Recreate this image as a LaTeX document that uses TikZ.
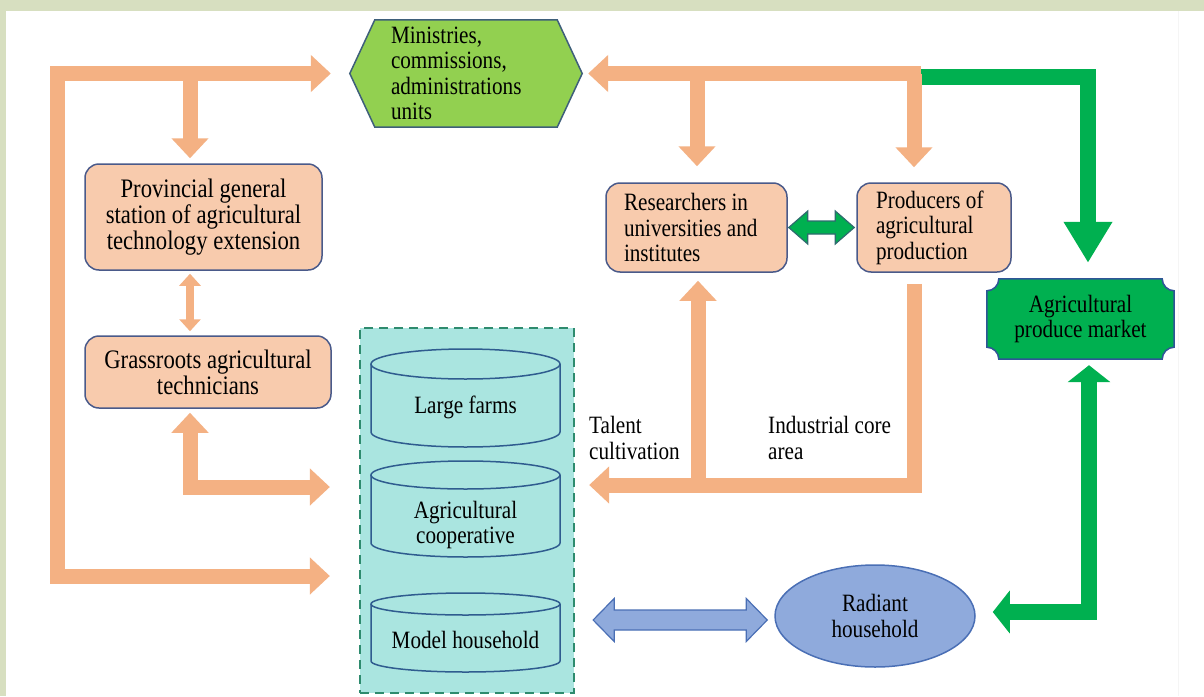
\documentclass[tikz,border=0pt]{standalone}
\usepackage{fontspec}
\setmainfont{Liberation Serif}[FakeStretch=0.85]
\usetikzlibrary{arrows.meta,calc,shapes.geometric}
\definecolor{band}{HTML}{D7DFC0}
\definecolor{orng}{HTML}{F4B183}
\definecolor{peach}{HTML}{F8CBAD}
\definecolor{boxline}{HTML}{4A5A8A}
\definecolor{lgreen}{HTML}{92D050}
\definecolor{hexline}{HTML}{3E5F7A}
\definecolor{dgreen}{HTML}{00B050}
\definecolor{mktline}{HTML}{2F5597}
\definecolor{tealfill}{HTML}{AAE5E0}
\definecolor{dashcol}{HTML}{2E8B6E}
\definecolor{cylline}{HTML}{2F5C8F}
\definecolor{lblue}{HTML}{8FAADC}
\definecolor{blueline}{HTML}{4A6FB5}
\definecolor{dblline}{HTML}{2E6B6E}
\newcommand\nodefont{\fontsize{24.9}{25.5}\selectfont}
\newcommand\bignodefont{\fontsize{26.7}{26}\selectfont}
\newcommand\tsp{\spaceskip=5.3pt plus 1pt minus 1pt\xspaceskip=5.6pt\relax}
\newcommand\bsp{\spaceskip=5.7pt plus 1pt minus 1pt\xspaceskip=6pt\relax}
\pgfdeclarelayer{bglayer}
\pgfdeclarelayer{shapelayer}
\pgfsetlayers{bglayer,shapelayer,main}
% cylinder drawn around a text node: name, top offset, bottom offset, ry
\newcommand\cylshape[4]{%
  \fill[tealfill] ($(#1.center)+(-94.5,#2+#4)$) rectangle ($(#1.center)+(94.5,#3-#4)$);
  \fill[tealfill] ($(#1.center)+(0,#3-#4)$) ellipse [x radius=94.5pt, y radius=#4pt];
  \draw[cylline,line width=1.5pt] ($(#1.center)+(0,#2+#4)$) ellipse [x radius=94.5pt, y radius=#4pt];
  \draw[cylline,line width=1.5pt] ($(#1.center)+(-94.5,#2+#4)$) -- ($(#1.center)+(-94.5,#3-#4)$)
     arc[start angle=180,end angle=360,x radius=94.5pt,y radius=#4pt] -- ($(#1.center)+(94.5,#2+#4)$);}
% horizontal double block arrow: left tip, right tip, shaft half, head half, head length, style
\newcommand\fatdouble[6]{%
  \filldraw[#6] let \p1=(#1), \p2=(#2) in
    (\x1,\y1) -- (\x1+#5,\y1+#4) -- (\x1+#5,\y1+#3) -- (\x2-#5,\y1+#3) -- (\x2-#5,\y1+#4)
    -- (\x2,\y1) -- (\x2-#5,\y1-#4) -- (\x2-#5,\y1-#3) -- (\x1+#5,\y1-#3) -- (\x1+#5,\y1-#4) -- cycle;}
\begin{document}
\begin{tikzpicture}[x=1pt,y=-1pt,
  every node/.style={font=\nodefont, inner sep=0pt},
  bigtext/.style={font=\bignodefont},
  rbox/.style={draw=boxline, line width=1.5pt, fill=peach, rounded corners=14pt},
  oarrow/.style={draw=orng, line width=15pt, line join=miter, >={Triangle[width=36pt,length=20pt]}},
  osmall/.style={draw=orng, line width=8pt, >={Triangle[width=21pt,length=12pt]}},
  garrow/.style={draw=dgreen, line width=16pt, line join=miter}]
\useasboundingbox (0,0) rectangle (1204,696);
\begin{pgfonlayer}{bglayer}
  \fill[white] (0,0) rectangle (1204,696);
  \fill[band] (0,0) rectangle (1204,11);
  \fill[band] (0,0) rectangle (6,696);
  \draw[black!4] (1178,11) -- (1178,696);
  \node[draw=dashcol, line width=2.3pt, dash pattern=on 9pt off 6pt, fill=tealfill,
        minimum width=214pt, minimum height=365pt] (cont) at (467,510.5) {};
\end{pgfonlayer}

% nodes
\node[minimum width=232pt, minimum height=107pt, text width=150pt, align=left] (min) at (466,73.5)
  {\tsp Ministries,\\commissions,\\administrations\\units};
\node[rbox, bigtext, minimum width=237pt, minimum height=106pt, align=center] (prov) at (203.5,217)
  {\bsp Provincial general\\station of agricultural\\technology extension};
\node[rbox, bigtext, minimum width=246pt, minimum height=72pt, align=center] (gr) at (208,372)
  {\bsp Grassroots agricultural\\technicians};
\node[rbox, minimum width=181pt, minimum height=89pt, text width=145pt, align=left] (res) at (696.5,227.5)
  {\tsp Researchers in\\universities and\\institutes};
\node[rbox, minimum width=154pt, minimum height=89pt, text width=116pt, align=left] (prod) at (934,227.5)
  {\tsp Producers of\\agricultural\\production};
\node[minimum width=187pt, minimum height=80pt, align=center] (mkt) at (1080.5,319)
  {\tsp Agricultural\\produce market};
\node[ellipse, draw=blueline, fill=lblue, line width=1.5pt, minimum width=200pt, minimum height=102pt, align=center]
  (rad) at (875,616) {Radiant\\household};
\node (c1) at (465.5,407) {\tsp Large farms};
\node[align=center] (c2) at (465.5,525) {Agricultural\\cooperative};
\node (c3) at (465.5,640) {\tsp Model household};
\node[anchor=west, align=left] (tal) at (589,438) {Talent\\cultivation};
\node[anchor=west, align=left] (ind) at (768,438) {\tsp Industrial core\\area};

\begin{pgfonlayer}{shapelayer}
  \filldraw[fill=lgreen, draw=hexline, line width=1.5pt]
    (min.west) -- ([xshift=25pt]min.north west) -- ([xshift=-25pt]min.north east) -- (min.east)
    -- ([xshift=-25pt]min.south east) -- ([xshift=25pt]min.south west) -- cycle;
  \filldraw[fill=dgreen, draw=mktline, line width=1.5pt]
    ([xshift=12pt]mkt.north west) -- ([xshift=-12pt]mkt.north east)
    .. controls ([xshift=-12pt,yshift=-6.6pt]mkt.north east) and ([xshift=-6.6pt,yshift=-12pt]mkt.north east) .. ([yshift=-12pt]mkt.north east)
    -- ([yshift=12pt]mkt.south east)
    .. controls ([xshift=-6.6pt,yshift=12pt]mkt.south east) and ([xshift=-12pt,yshift=6.6pt]mkt.south east) .. ([xshift=-12pt]mkt.south east)
    -- ([xshift=12pt]mkt.south west)
    .. controls ([xshift=12pt,yshift=6.6pt]mkt.south west) and ([xshift=6.6pt,yshift=12pt]mkt.south west) .. ([yshift=12pt]mkt.south west)
    -- ([yshift=-12pt]mkt.north west)
    .. controls ([xshift=6.6pt,yshift=-12pt]mkt.north west) and ([xshift=12pt,yshift=-6.6pt]mkt.north west) .. cycle;
  \cylshape{c1}{-58}{40}{15}
  \cylshape{c2}{-64}{32}{14}
  \cylshape{c3}{-47}{32}{11}
\end{pgfonlayer}

% coordinates for connector bends
\coordinate (tl) at (57,73.5);
\coordinate (bl) at (57,576);
\coordinate (tb) at (190,73.5);
\coordinate (c487) at (190,487);
\coordinate (tr) at (921,73.5);
\coordinate (bj1) at (697,73.5);
\coordinate (bj2) at (914,73.5);
\coordinate (c485r) at (914,485);
\coordinate (c485l) at (698,485);
\coordinate (gst) at (921,77);
\coordinate (gc) at (1089,612);
\coordinate (bly) at (0,620);

% green connectors
\draw[garrow, >={Triangle[width=46pt,length=41pt]}, ->, shorten >=16pt] (gst) -| ([xshift=7.5pt]mkt.north);
\draw[garrow, >={Triangle[width=42pt,length=17pt]}, <->, shorten <=17pt, shorten >=6pt]
  (rad.east |- gc) -- (gc) -- (gc |- mkt.south);

% orange connectors
\draw[oarrow, <->, shorten <=19pt, shorten >=29pt] (min.west) -- (tl) -- (bl) -- (bl -| cont.west);
\draw[oarrow, ->, shorten >=5pt] (tb) -- (tb |- prov.north);
\draw[osmall, <->, shorten <=3pt, shorten >=4pt] (prov.south -| tb) -- (gr.north -| tb);
\draw[oarrow, <->, shorten <=4pt, shorten >=29pt] (gr.south -| tb) -- (c487) -- (c487 -| cont.west);
\draw[oarrow, ->, shorten >=6pt] (tr) -- (min.east);
\draw[oarrow, ->, shorten >=16pt] (bj1) -- (bj1 |- res.north);
\draw[oarrow, ->, shorten >=15pt] (bj2) -- (bj2 |- prod.north);
\draw[oarrow, ->, shorten <=11pt, shorten >=14pt] (bj2 |- prod.south) -- (c485r) -- (c485r -| cont.east);
\draw[oarrow, ->, shorten >=8pt] (c485l) -- (c485l |- res.south);

% block double arrows
\fatdouble{$(res.east)+(1pt,0)$}{$(prod.west)+(-2pt,0)$}{6.5pt}{16.5pt}{19pt}{draw=dblline, fill=dgreen, line width=1.2pt}
\fatdouble{$(cont.east |- bly)+(18pt,0)$}{$(rad.west |- bly)+(-7pt,0)$}{10pt}{21.5pt}{21pt}{draw=blueline, fill=lblue, line width=1.2pt}
\end{tikzpicture}
\end{document}
